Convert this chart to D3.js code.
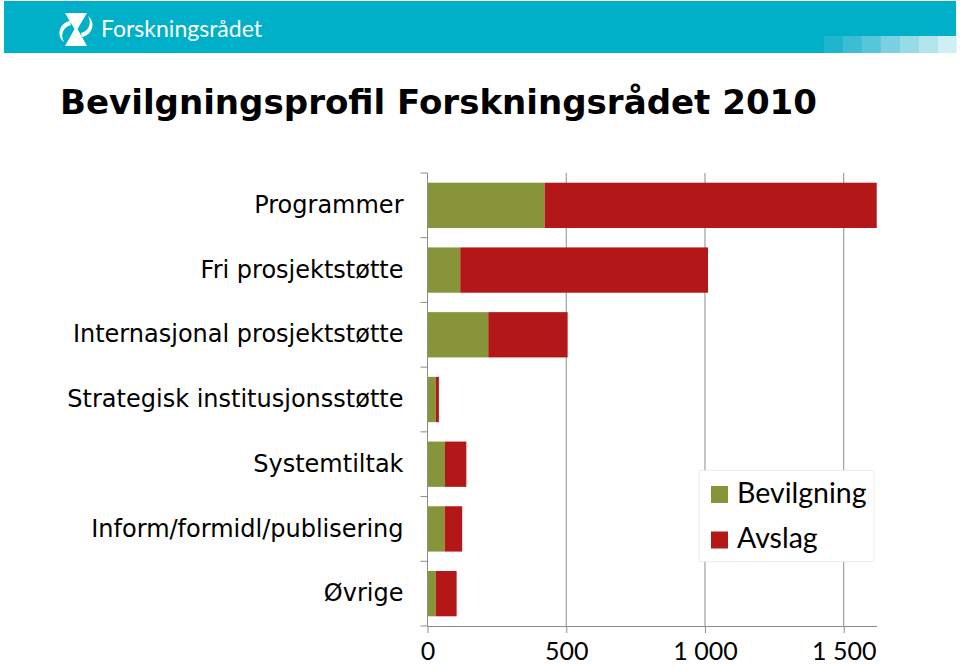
<!DOCTYPE html>
<html>
<head>
<meta charset="utf-8">
<script src="https://cdn.jsdelivr.net/npm/d3@7"></script>
<style>
  html, body { margin: 0; padding: 0; background: #fff; }
  svg { display: block; }
</style>
</head>
<body>
<svg id="chart" width="960" height="668"></svg>
<script>
const categories = ["Programmer", "Fri prosjektstøtte", "Internasjonal prosjektstøtte",
  "Strategisk institusjonsstøtte", "Systemtiltak", "Inform/formidl/publisering", "Øvrige"];
const bevilgning = [422, 118, 219, 30, 63, 62, 30];
const avslag = [1197, 893, 286, 11, 77, 63, 75];
const seriesNames = ["Bevilgning", "Avslag"];
const xTicks = [0, 500, 1000, 1500];
const titleText = "Bevilgningsprofil Forskningsrådet 2010";
const brandText = "Forskningsrådet";

const colors = {Bevilgning: "#88943a", Avslag: "#b41718"};
const svg = d3.select("#chart");

// Header band
const header = svg.append("g");
header.append("rect").attr("x", 4).attr("y", 1).attr("width", 952).attr("height", 52).attr("fill", "#00b0c9");
const sqColors = ["#1fb5cc", "#3bbdd3", "#56c6da", "#7bd1e1", "#97dbe7", "#b3e5ee", "#ceeff4"];
sqColors.forEach((c, i) => {
  header.append("rect").attr("x", 824 + i * 18.9).attr("y", 36).attr("width", 19.2).attr("height", 17).attr("fill", c);
});
// logo icon
const logo = header.append("g").attr("transform", "translate(76,30)").attr("fill", "#fff");
logo.append("path").attr("d", "M-11,-17 L11,-17 L1.5,-1 L11,16 L-11,16 L-1.5,-1 Z");
logo.append("path").attr("d", "M-6,-9 C-17,-7 -20,6 -12,12 C-16,5 -13,-3 -5,-5 Z");
logo.append("path").attr("d", "M6,7 C17,5 20,-8 12,-14 C16,-7 13,1 5,3 Z");
header.append("text").attr("x", 101).attr("y", 37).attr("fill", "#fff")
  .attr("font-family", "Lato, 'Open Sans', sans-serif").attr("font-size", 24)
  .attr("textLength", 161).attr("lengthAdjust", "spacingAndGlyphs").text(brandText);

// Title
svg.append("text").attr("x", 60).attr("y", 114)
  .attr("font-family", "'DejaVu Sans', Verdana, sans-serif").attr("font-weight", "bold")
  .attr("font-size", 33).attr("fill", "#000")
  .attr("textLength", 757).attr("lengthAdjust", "spacingAndGlyphs").text(titleText);

// Plot
const x0 = 427.5, x1 = 877, yTop = 173, yBot = 626;
const x = d3.scaleLinear().domain([0, 1620]).range([x0, x1]);
const y = d3.scaleBand().domain(categories).range([yTop, yBot]).paddingInner(0.3).paddingOuter(0.15);

const rows = categories.map((c, i) => ({cat: c, Bevilgning: bevilgning[i], Avslag: avslag[i]}));
const stacked = d3.stack().keys(seriesNames)(rows);

// gridlines
svg.append("g").selectAll("line").data(xTicks.filter(d => d > 0)).join("line")
  .attr("x1", d => x(d)).attr("x2", d => x(d)).attr("y1", yTop).attr("y2", yBot)
  .attr("stroke", "#8c8c8c").attr("stroke-width", 1);

// bars
svg.append("g").selectAll("g").data(stacked).join("g")
  .attr("fill", d => colors[d.key])
  .selectAll("rect").data(d => d).join("rect")
  .attr("x", d => x(d[0])).attr("width", d => x(d[1]) - x(d[0]))
  .attr("y", d => y(d.data.cat)).attr("height", y.bandwidth());

// left axis line and boundary ticks
const step = y.step();
const bounds = d3.range(categories.length + 1).map(i => yTop + i * step);
svg.append("line").attr("x1", x0).attr("x2", x0).attr("y1", yTop).attr("y2", yBot).attr("stroke", "#8c8c8c");
svg.append("g").selectAll("line").data(bounds).join("line")
  .attr("x1", x0 - 7).attr("x2", x0).attr("y1", d => d).attr("y2", d => d).attr("stroke", "#8c8c8c");

// category labels
const yAxis = d3.axisLeft(y).tickSize(0).tickPadding(24);
const gy = svg.append("g").attr("transform", `translate(${x0},0)`).call(yAxis);
gy.select(".domain").remove();
gy.selectAll("text").attr("font-family", "'DejaVu Sans', Verdana, sans-serif")
  .attr("font-size", 24).attr("fill", "#000").attr("dy", "0.32em");

// bottom axis
const loc = d3.formatLocale({decimal: ",", thousands: " ", grouping: [3], currency: ["", ""]});
const xAxis = d3.axisBottom(x).tickValues(xTicks).tickFormat(loc.format(",")).tickSize(7).tickPadding(9).tickSizeOuter(0);
const gx = svg.append("g").attr("transform", `translate(0,${yBot})`).call(xAxis);
gx.select(".domain").attr("stroke", "#8c8c8c").attr("d", `M${x0},0.5H${x1}`);
gx.selectAll(".tick line").attr("stroke", "#8c8c8c");
gx.selectAll("text").attr("font-family", "Lato, Carlito, Calibri, sans-serif").attr("font-size", 25).attr("fill", "#000");

// legend
const lg = svg.append("g");
lg.append("rect").attr("x", 699).attr("y", 470.5).attr("width", 175).attr("height", 91)
  .attr("fill", "#fff").attr("stroke", "#ececec");
seriesNames.forEach((s, i) => {
  lg.append("rect").attr("x", 711).attr("y", 486 + i * 45.5).attr("width", 17).attr("height", 17).attr("fill", colors[s]);
  lg.append("text").attr("x", 737).attr("y", 502.5 + i * 45.5)
    .attr("font-family", "Lato, Carlito, Calibri, sans-serif").attr("font-size", 28.5).attr("fill", "#000").text(s);
});
</script>
</body>
</html>
